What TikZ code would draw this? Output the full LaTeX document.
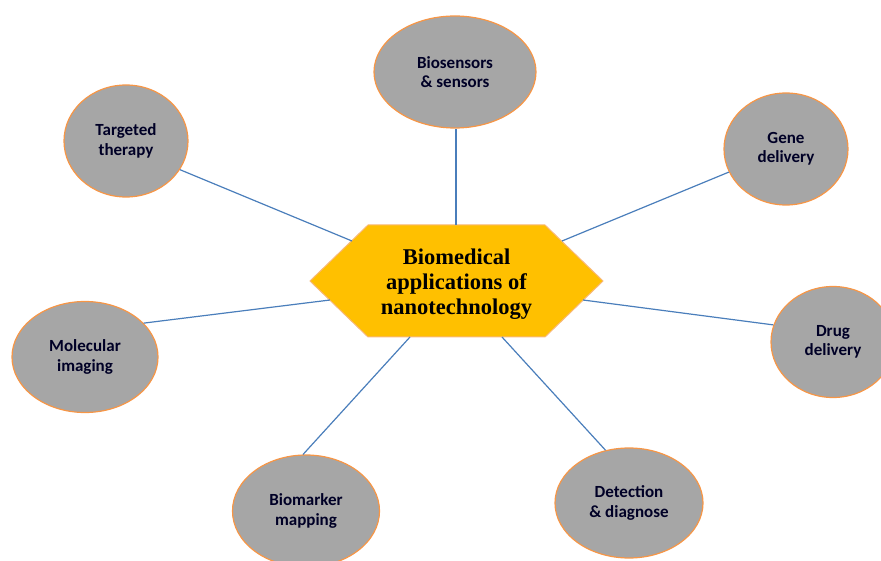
\documentclass[tikz,border=0pt]{standalone}
\usepackage{fontspec}
\setmainfont{Carlito}
\newfontfamily\hexfont{Liberation Serif}
\usetikzlibrary{shapes.geometric}
\definecolor{hexfill}{HTML}{FFC000}
\definecolor{hexline}{HTML}{F8B878}
\definecolor{ellfill}{HTML}{A6A6A6}
\definecolor{ellline}{HTML}{F79646}
\definecolor{conn}{HTML}{4A7EBB}
\begin{document}
\begin{tikzpicture}[x=1pt,y=-1pt,
  bubble/.style={ellipse, draw=ellline, line width=1.2pt, fill=ellfill, inner sep=0pt,
    align=center, text=black!85!blue, font=\bfseries\fontsize{17}{19.5}\selectfont},
  link/.style={draw=conn, line width=1.2pt}]
\useasboundingbox (0,0) rectangle (881,561);
% hexagon corners
\coordinate (hL)  at (310,281);
\coordinate (hTL) at (368,225);
\coordinate (hTR) at (545,225);
\coordinate (hR)  at (603,281);
\coordinate (hBR) at (545,337);
\coordinate (hBL) at (368,337);
% connector anchors on the hexagon
\coordinate (c0) at (456,225);
\coordinate (c1) at (352,241);
\coordinate (c2) at (562,241);
\coordinate (c3) at (330,300);
\coordinate (c4) at (583,300);
\coordinate (c5) at (410,337);
\coordinate (c6) at (502,337);
% ellipses
\node[bubble, minimum width=162, minimum height=112] (bio) at (455,72) {Biosensors\\\& sensors};
\node[bubble, minimum width=124, minimum height=112] (tt) at (126,141) {Targeted\\therapy};
\node[bubble, minimum width=124, minimum height=112] (gd) at (786,149) {Gene\\delivery};
\node[bubble, minimum width=146, minimum height=111] (mi) at (85,357) {Molecular\\imaging};
\node[bubble, minimum width=124, minimum height=111] (dd) at (833,342) {Drug\\delivery};
\node[bubble, minimum width=147, minimum height=112] (bm) at (306,511) {Biomarker\\mapping};
\node[bubble, minimum width=148, minimum height=110] (dt) at (629,503) {Detection\\\& diagnose};
% hexagon
\draw[fill=hexfill, draw=hexline, line width=1pt] (hL) -- (hTL) -- (hTR) -- (hR) -- (hBR) -- (hBL) -- cycle;
\node[font=\hexfont\bfseries\fontsize{22.5}{25}\selectfont, align=center, inner sep=0pt] (hub) at (456.5,284) {Biomedical\\applications of\\nanotechnology};
% connectors
\draw[link] (c0) -- (c0 |- bio.south);
\draw[link] (c1) -- (tt.332);
\draw[link] (c2) -- (gd.202);
\draw[link] (c3) -- (mi.30);
\draw[link] (c4) -- (dd.164);
\draw[link] (c5) -- (bm.93);
\draw[link] (c6) -- (dt.114);
\end{tikzpicture}
\end{document}
